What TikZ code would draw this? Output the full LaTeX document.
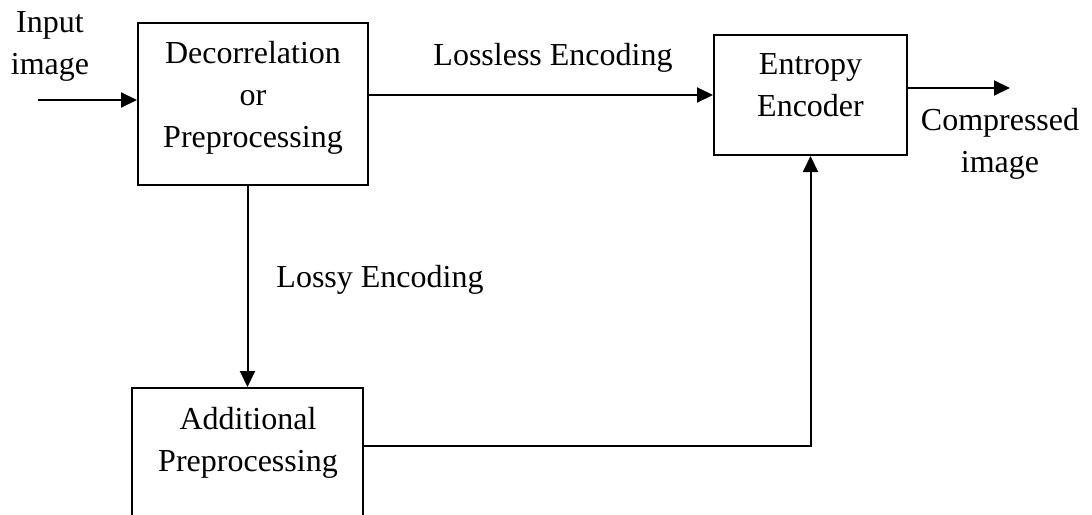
\documentclass[tikz,border=0pt]{standalone}
\usepackage{fontspec}
\setmainfont{Liberation Serif}
\usetikzlibrary{arrows.meta}
\begin{document}
\begin{tikzpicture}[x=1pt,y=-1pt,
  every node/.style={font=\fontsize{32}{42}\selectfont, inner sep=0pt},
  block/.style={draw, line width=2pt, rectangle, fill=none},
  txt/.style={align=center, anchor=north},
  flow/.style={line width=2pt, -{Triangle[length=16pt,width=15pt]}},
  wire/.style={line width=2pt}]
  \useasboundingbox (0,0) rectangle (1092,514);
  \clip (0,0) rectangle (1092,514);

  % processing blocks
  \node[block, minimum width=230pt, minimum height=162pt] (dec) at (253,104) {};
  \node[block, minimum width=193pt, minimum height=120pt] (ent) at (810.5,95) {};
  \node[block, minimum width=231pt, minimum height=162pt] (add) at (247.5,469) {};

  % block captions
  \node[txt] (dect) at (253,41.5) {Decorrelation\\or\\Preprocessing};
  \node[txt] (entt) at (810.5,53.5) {Entropy\\Encoder};
  \node[txt] (addt) at (248,407) {Additional\\Preprocessing};

  % inputs, outputs and edge captions
  \node[txt] (inl) at (50,11.5) {Input\\image};
  \node[txt] (outl) at (1000,108) {Compressed\\image};
  \node[anchor=base] (lossless) at (553,65) {Lossless Encoding};
  \node[anchor=base] (lossy) at (380,287) {Lossy Encoding};

  \coordinate (in) at (38,100);
  \coordinate (out) at (1010,88);
  \coordinate (join) at (0,446);

  % connectors
  \draw[flow] (in) -- (in -| dec.west);
  \draw[flow] (dec.east |- ent.west) -- (ent.west);
  \draw[flow] (out -| ent.east) -- (out);
  \draw[flow] (dec.south -| add.north) -- (add.north);
  \draw[flow] (add.east |- join) -| (ent.south);
\end{tikzpicture}
\end{document}
